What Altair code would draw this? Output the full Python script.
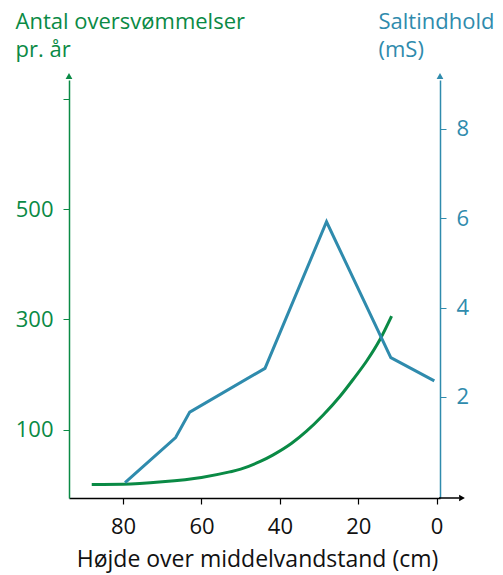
import altair as alt
import pandas as pd

# Green curve: floods per year vs height (cm)
flood_height = [88, 80, 70, 60, 52.8, 50, 45, 41.7, 37, 33.2, 29, 24.7, 21, 17.9, 14.5, 11.5]
flood_count = [0, 0.5, 5, 13, 23, 28, 42, 54, 75, 97, 126, 160, 194, 224, 263, 306]

# Blue line: salt content (mS) vs height (cm)
salt_height = [79.5, 66.6, 63.0, 43.8, 28.1, 11.7, 0.6]
salt_value = [0.08, 1.09, 1.66, 2.64, 5.92, 2.88, 2.36]

x_ticks = [80, 60, 40, 20, 0]
left_ticks = [100, 300, 500, 700]
right_ticks = [2, 4, 6, 8]

GREEN = "#0a8a45"
BLUE = "#2f8bad"
FONT = "Open Sans"
W, H = 371, 418

flood_df = pd.DataFrame({"h": flood_height, "n": flood_count})
salt_df = pd.DataFrame({"h": salt_height, "s": salt_value})

xenc = alt.X(
    "h:Q",
    scale=alt.Scale(domain=[-0.85, 93.8], reverse=True, nice=False, zero=False),
    axis=alt.Axis(
        values=x_ticks, grid=False, tickSize=6, tickColor="black", tickWidth=1.2,
        domainColor="black", domainWidth=1.5, labelFontSize=22, labelColor="#111",
        labelFont=FONT, labelPadding=12, labelFlush=False,
        title="Højde over middelvandstand (cm)", titleFont=FONT, titleFontSize=23,
        titleFontWeight="normal", titleColor="#111", titleX=188, titleY=68,
        titleBaseline="alphabetic", titleAlign="center",
    ),
)

green = alt.Chart(flood_df).mark_line(
    color=GREEN, strokeWidth=3, interpolate="monotone"
).encode(
    x=xenc,
    y=alt.Y(
        "n:Q",
        scale=alt.Scale(domain=[-24.4, 735], nice=False, zero=False),
        axis=alt.Axis(
            orient="left", values=left_ticks, grid=False, tickSize=6,
            tickColor=GREEN, domainColor=GREEN, domainWidth=1.5,
            labelExpr="datum.value == 700 ? '' : datum.label",
            labelFontSize=22, labelColor=GREEN, labelFont=FONT, labelPadding=10,
            labelFlush=False,
            title=["Antal oversvømmelser", "pr. år"], titleFont=FONT,
            titleFontSize=22, titleFontWeight="normal", titleColor=GREEN,
            titleAngle=0, titleAlign="left", titleBaseline="alphabetic",
            titleX=-54, titleY=-52, titleLineHeight=28,
        ),
    ),
)

blue = alt.Chart(salt_df).mark_line(color=BLUE, strokeWidth=3).encode(
    x=alt.X("h:Q"),
    y=alt.Y(
        "s:Q",
        scale=alt.Scale(domain=[-0.262, 9.093], nice=False, zero=False),
        axis=alt.Axis(
            orient="right", values=right_ticks, grid=False, tickSize=6,
            tickColor=BLUE, domainColor=BLUE, domainWidth=1.5,
            labelFontSize=22, labelColor=BLUE, labelFont=FONT, labelPadding=10,
            labelFlush=False,
            title=["Saltindhold", "(mS)"], titleFont=FONT,
            titleFontSize=22, titleFontWeight="normal", titleColor=BLUE,
            titleAngle=0, titleAlign="left", titleBaseline="alphabetic",
            titleX=-62, titleY=-52, titleLineHeight=28,
        ),
    ),
)

arrow_left = alt.Chart(pd.DataFrame({"a": [0]})).mark_point(
    shape="triangle-up", filled=True, size=45, color=GREEN, opacity=1
).encode(x=alt.value(0), y=alt.value(-4))

arrow_right = alt.Chart(pd.DataFrame({"a": [0]})).mark_point(
    shape="triangle-up", filled=True, size=45, color=BLUE, opacity=1
).encode(x=alt.value(W), y=alt.value(-4))

x_ext = alt.Chart(pd.DataFrame({"a": [0]})).mark_rule(
    color="black", strokeWidth=1.5
).encode(x=alt.value(W - 1), x2=alt.value(390), y=alt.value(H))

arrow_x = alt.Chart(pd.DataFrame({"a": [0]})).mark_point(
    shape="triangle-right", filled=True, size=45, color="black", opacity=1
).encode(x=alt.value(393), y=alt.value(H))

chart = alt.layer(green, blue, arrow_left, arrow_right, x_ext, arrow_x).resolve_scale(
    y="independent"
).properties(
    width=W, height=H,
    autosize=alt.AutoSizeParams(type="none"),
    padding={"left": 61, "top": 72, "right": 55, "bottom": 82},
).configure_view(stroke=None)

chart.save("out.html", embed_options={"renderer": "svg", "actions": False})
